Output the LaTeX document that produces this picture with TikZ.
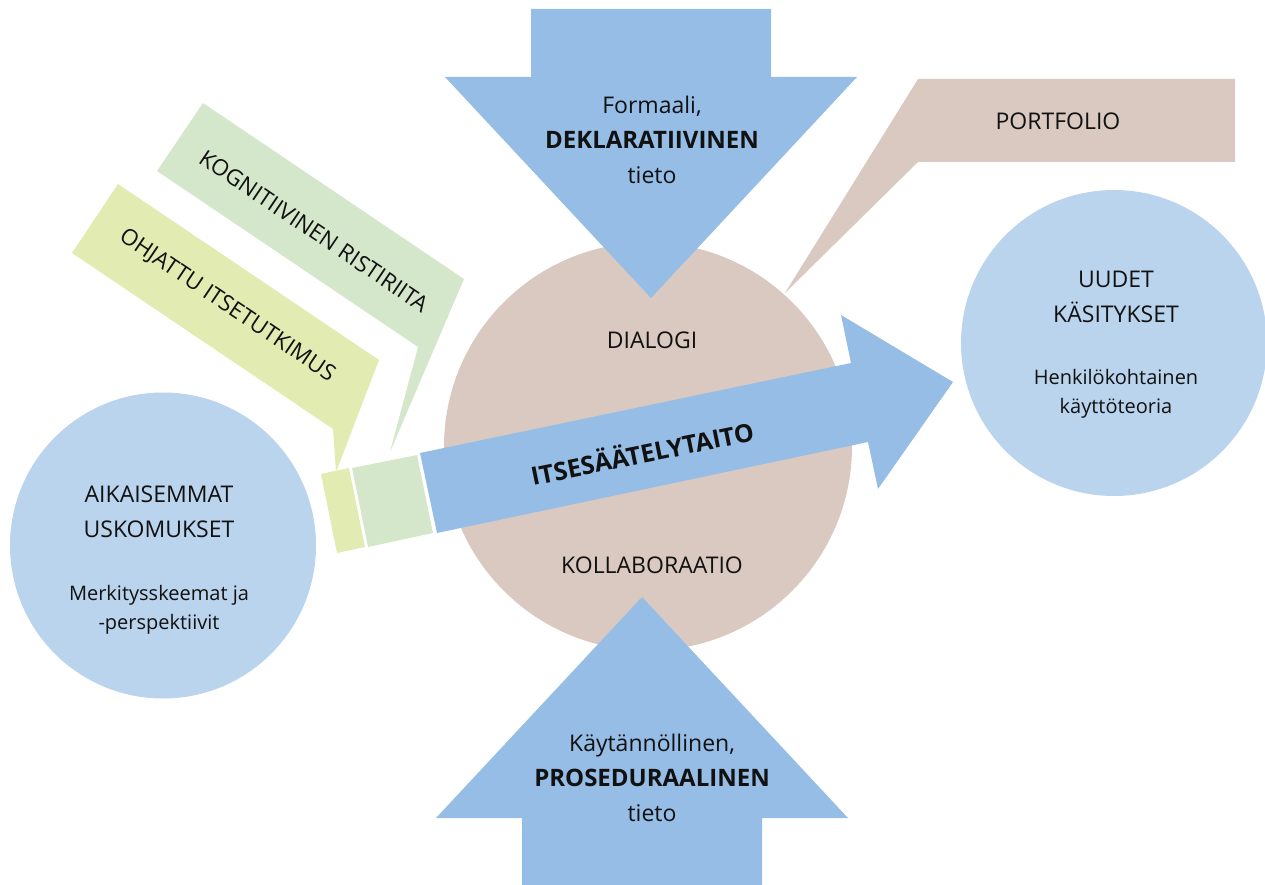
\documentclass[tikz,border=0pt]{standalone}
\usepackage{fontspec}
\setmainfont{Open Sans}
\definecolor{arrowblue}{HTML}{95BDE5}
\definecolor{circblue}{HTML}{BAD4EE}
\definecolor{tan}{HTML}{D9C9C1}
\definecolor{palegreen}{HTML}{D4E7CB}
\definecolor{paleyellow}{HTML}{E2EBB1}
\definecolor{ink}{HTML}{111111}
\tikzset{
  bigtxt/.style={font=\fontsize{23}{35}\selectfont, text=ink, align=center, inner sep=0pt},
  smalltxt/.style={font=\fontsize{20}{29}\selectfont, text=ink, align=center, inner sep=0pt},
  calltxt/.style={font=\fontsize{22.5}{26}\selectfont, text=ink, inner sep=0pt},
  blob/.style={circle, draw=none, inner sep=0pt}
}
\newcommand{\heavy}[1]{{\fontsize{24}{35}\selectfont\bfseries #1}}
\begin{document}
\begin{tikzpicture}[x=1pt,y=-1pt]
\useasboundingbox (0,0) rectangle (1265,885);

% central circle
\node[blob, fill=tan, minimum size=408pt] (centre) at (648,446.5) {};
% side circles
\node[blob, fill=circblue, minimum size=306pt] (prior) at (163,545.5) {};
\node[blob, fill=circblue, minimum size=306pt] (new) at (1114,343) {};

% top arrow
\fill[arrowblue] (531,9) -- (771,9) -- (771,77) -- (857,77) -- (651,298) -- (445,77) -- (531,77) -- cycle;
% bottom arrow
\fill[arrowblue] (642,597) -- (848,818) -- (762,818) -- (762,885) -- (522,885) -- (522,818) -- (436,818) -- cycle;

% portfolio callout
\fill[tan] (918,79) -- (1235,79) -- (1235,162) -- (918,162) -- (785,293) -- cycle;

% callouts on the left
\fill[palegreen] (203,103) -- (464,279) -- (390,452) -- (418,347) -- (157,171) -- cycle;
\fill[paleyellow] (118,184) -- (379,360) -- (336,472) -- (333,429) -- (72,253) -- cycle;

% main arrow with its two tail blocks
\fill[paleyellow] (321,474) -- (349,468) -- (365,547) -- (337,553) -- cycle;
\fill[palegreen] (352,468) -- (417,455) -- (433,533) -- (368,547) -- cycle;
\fill[arrowblue] (420,453) -- (851,363) -- (841,315) -- (953,382) -- (878,489) -- (868,442) -- (437,533) -- cycle;

% texts
\node[bigtxt] (dekl) at (652,140) {Formaali,\\\heavy{DEKLARATIIVINEN}\\tieto};
\node[bigtxt] (proc) at (652,778) {Käytännöllinen,\\\heavy{PROSEDURAALINEN}\\tieto};
\node[bigtxt] (portf) at (1058,121) {PORTFOLIO};
\node[bigtxt] (dial) at (652,340) {DIALOGI};
\node[bigtxt] (koll) at (652,565) {KOLLABORAATIO};
\node[bigtxt] (priort) at (159,512) {AIKAISEMMAT\\USKOMUKSET};
\node[smalltxt] (priors) at (159,610) {Merkitysskeemat ja\\-perspektiivit};
\node[bigtxt] (newt) at (1116,297) {UUDET\\KÄSITYKSET};
\node[smalltxt] (news) at (1116,394) {Henkilökohtainen\\käyttöteoria};
\node[calltxt, rotate=-34] (kogn) at (314,231) {KOGNITIIVINEN RISTIRIITA};
\node[calltxt, rotate=-34] (ohj) at (227,306) {OHJATTU ITSETUTKIMUS};
\node[font=\fontsize{25}{28}\selectfont\bfseries, text=ink, inner sep=0pt, rotate=11.5] (itse) at (642,452) {ITSESÄÄTELYTAITO};
\end{tikzpicture}
\end{document}
